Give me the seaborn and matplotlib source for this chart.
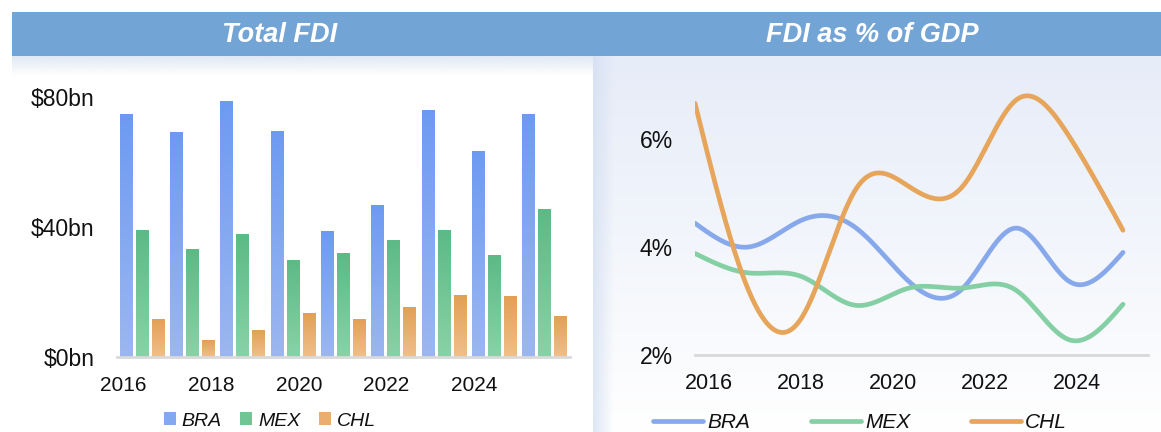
import numpy as np
import pandas as pd
import matplotlib
matplotlib.use("Agg")
import matplotlib.pyplot as plt
from matplotlib.colors import LinearSegmentedColormap, to_rgb
from matplotlib.patches import Rectangle, Patch
from matplotlib.lines import Line2D
import seaborn as sns

# ---------------- data ----------------
years = [2016, 2017, 2018, 2019, 2020, 2021, 2022, 2023, 2024]
countries = ["BRA", "MEX", "CHL"]

fdi_bra = [74.5, 69.2, 78.5, 69.5, 38.5, 46.5, 75.7, 63.1, 74.5]
fdi_mex = [39.0, 33.2, 37.8, 29.8, 31.7, 35.7, 39.0, 31.1, 45.5]
fdi_chl = [11.4, 5.2, 8.1, 13.5, 11.4, 15.1, 18.8, 18.5, 12.6]

gdp_bra = [4.44, 4.00, 4.50, 4.36, 3.36, 3.23, 4.35, 3.36, 3.90]
gdp_mex = [3.88, 3.52, 3.45, 2.92, 3.24, 3.24, 3.20, 2.28, 2.94]
gdp_chl = [6.66, 3.20, 2.70, 5.06, 5.12, 5.12, 6.72, 6.04, 4.31]

year_labels = ["2016", "2018", "2020", "2022", "2024"]
fdi_ticks = [0, 40, 80]
fdi_tick_labels = ["$0bn", "$40bn", "$80bn"]
gdp_ticks = [2, 4, 6]
gdp_tick_labels = ["2%", "4%", "6%"]
titles = ["Total FDI", "FDI as % of GDP"]

# ---------------- style ----------------
bar_top = {"BRA": "#6d9af2", "MEX": "#5cba86", "CHL": "#e2a056"}
bar_bot = {"BRA": "#9cb7ef", "MEX": "#89d2a7", "CHL": "#f0bf8b"}
bar_mid = {"BRA": "#84a8f0", "MEX": "#70c595", "CHL": "#e9ae70"}
line_col = {"BRA": "#87a9ec", "MEX": "#84cfa3", "CHL": "#e6a55a"}

sns.set_theme(style="white")
plt.rcParams['font.family'] = ['Liberation Sans', 'DejaVu Sans']
plt.rcParams['text.color'] = '#111111'
plt.rcParams['xtick.color'] = '#111111'
plt.rcParams['ytick.color'] = '#111111'

W, H = 1161, 432
fig = plt.figure(figsize=(W / 100, H / 100), dpi=100)
fig.patch.set_facecolor("white")

# ---------------- background decorations ----------------
bg = fig.add_axes([0, 0, 1, 1], zorder=-10)
bg.set_xlim(0, W)
bg.set_ylim(H, 0)
bg.axis("off")

grad = np.linspace(0, 1, 256)[:, None]
cmap_bg = LinearSegmentedColormap.from_list("bg", ["#e6ecf8", "#ffffff"])
bg.imshow(grad, extent=[593, W, H, 56], cmap=cmap_bg, aspect="auto",
          interpolation="bilinear")

# left band of right panel
band = np.zeros((1, 64, 4))
band[..., :3] = to_rgb("#d3dff1")
band[..., 3] = np.linspace(0.75, 0.0, 64)
bg.imshow(band, extent=[593, 614, H, 56], aspect="auto", interpolation="bilinear")

# shadow under title bar (left panel)
sh = np.zeros((64, 1, 4))
sh[..., :3] = to_rgb("#dce6f3")
sh[..., 3] = np.linspace(0.9, 0.0, 64)[:, None]
bg.imshow(sh, extent=[12, 593, 76, 56], aspect="auto", interpolation="bilinear")

bg.add_patch(Rectangle((12, 12), W - 12, 44, color="#72a4d6", lw=0))
title_font = ['Liberation Sans Narrow', 'Liberation Sans', 'DejaVu Sans']
bg.text(280, 35, titles[0], ha="center", va="center", color="white",
        fontsize=19.5, fontweight="bold", fontstyle="italic", family=title_font)
bg.text(872, 35, titles[1], ha="center", va="center", color="white",
        fontsize=19.5, fontweight="bold", fontstyle="italic", family=title_font)
bg.set_xlim(0, W)
bg.set_ylim(H, 0)

# ---------------- left: bars ----------------
df_fdi = pd.DataFrame({
    "year": [str(y) for y in years] * 3,
    "country": np.repeat(countries, len(years)),
    "value": fdi_bra + fdi_mex + fdi_chl,
})

ax1 = fig.add_axes([117 / W, 1 - 357 / H, 453 / W, 260 / H])
ax1.patch.set_alpha(0)
sns.barplot(data=df_fdi, x="year", y="value", hue="country",
            hue_order=countries, palette=bar_mid, width=0.95, gap=0.19,
            ax=ax1, legend=False, errorbar=None)

for cont, c in zip(ax1.containers, countries):
    cmap = LinearSegmentedColormap.from_list("g" + c, [bar_bot[c], bar_top[c]])
    for bar in cont:
        x0, w, h = bar.get_x(), bar.get_width(), bar.get_height()
        ax1.imshow(grad, extent=[x0, x0 + w, 0, h], origin="lower",
                   cmap=cmap, aspect="auto", interpolation="bilinear", zorder=2)
        bar.set_facecolor("none")
        bar.set_edgecolor("none")

ax1.set_xlim(-0.5, 8.5)
ax1.set_ylim(0, 80)
ax1.set_yticks(fdi_ticks)
ax1.set_yticklabels(fdi_tick_labels, fontsize=16.5)
ax1.set_xticks(np.linspace(-0.377, 6.60, 5))
ax1.set_xticklabels(year_labels, fontsize=15)
ax1.tick_params(axis="y", length=0, pad=16)
ax1.tick_params(axis="x", length=0, pad=14)
ax1.set_xlabel("")
ax1.set_ylabel("")
for s in ["top", "right", "left"]:
    ax1.spines[s].set_visible(False)
ax1.spines["bottom"].set_color("#d9d9d9")
ax1.spines["bottom"].set_linewidth(2.0)
ax1.grid(False)

leg_handles = [Patch(facecolor=bar_mid[c], edgecolor="none", label=c) for c in countries]
fig.legend(handles=leg_handles, loc="center", bbox_to_anchor=(270 / W, 1 - 421 / H),
           ncol=3, frameon=False, prop={"style": "italic", "size": 14},
           handlelength=0.62, handleheight=0.62, handletextpad=0.3,
           columnspacing=0.95, borderaxespad=0, borderpad=0)

# ---------------- right: smooth lines ----------------
def natural_spline(x, y, n=400):
    x = np.asarray(x, float)
    y = np.asarray(y, float)
    m = len(x)
    h = np.diff(x)
    A = np.zeros((m, m))
    b = np.zeros(m)
    A[0, 0] = 1
    A[-1, -1] = 1
    for i in range(1, m - 1):
        A[i, i - 1] = h[i - 1]
        A[i, i] = 2 * (h[i - 1] + h[i])
        A[i, i + 1] = h[i]
        b[i] = 3 * ((y[i + 1] - y[i]) / h[i] - (y[i] - y[i - 1]) / h[i - 1])
    c = np.linalg.solve(A, b)
    bb = (y[1:] - y[:-1]) / h - h * (2 * c[:-1] + c[1:]) / 3
    d = (c[1:] - c[:-1]) / (3 * h)
    xs = np.linspace(x[0], x[-1], n)
    idx = np.clip(np.searchsorted(x, xs) - 1, 0, m - 2)
    dx = xs - x[idx]
    ys = y[idx] + bb[idx] * dx + c[idx] * dx ** 2 + d[idx] * dx ** 3
    return xs, ys

frames = []
for c, vals in zip(countries, [gdp_bra, gdp_mex, gdp_chl]):
    xs, ys = natural_spline(years, vals)
    frames.append(pd.DataFrame({"year": xs, "pct": ys, "country": c}))
df_gdp = pd.concat(frames, ignore_index=True)

ax2 = fig.add_axes([695 / W, 1 - 355 / H, 453 / W, 270 / H])
ax2.patch.set_alpha(0)
sns.lineplot(data=df_gdp, x="year", y="pct", hue="country", hue_order=countries,
             palette=line_col, sort=False, estimator=None, linewidth=3.4,
             solid_capstyle="round", legend=False, ax=ax2)
ax2.set_xlim(2016, 2016 + 453 / 53.5)
ax2.set_ylim(2, 7)
ax2.set_yticks(gdp_ticks)
ax2.set_yticklabels(gdp_tick_labels, fontsize=16.5)
ax2.set_xticks(np.linspace(2016.26, 2023.14, 5))
ax2.set_xticklabels(year_labels, fontsize=15.5)
ax2.tick_params(axis="y", length=0, pad=16)
ax2.tick_params(axis="x", length=0, pad=13)
ax2.set_xlabel("")
ax2.set_ylabel("")
for s in ["top", "right", "left"]:
    ax2.spines[s].set_visible(False)
ax2.spines["bottom"].set_color("#d9d9d9")
ax2.spines["bottom"].set_linewidth(2.0)
ax2.grid(False)

line_handles = [Line2D([0], [0], color=line_col[c], lw=3.4, solid_capstyle="round", label=c)
                for c in countries]
fig.legend(handles=line_handles, loc="center", bbox_to_anchor=(860 / W, 1 - 423 / H),
           ncol=3, frameon=False, prop={"style": "italic", "size": 15},
           handlelength=2.4, handletextpad=0.2, columnspacing=2.9,
           borderaxespad=0, borderpad=0)

fig.savefig("out.png", dpi=100, facecolor="white")
